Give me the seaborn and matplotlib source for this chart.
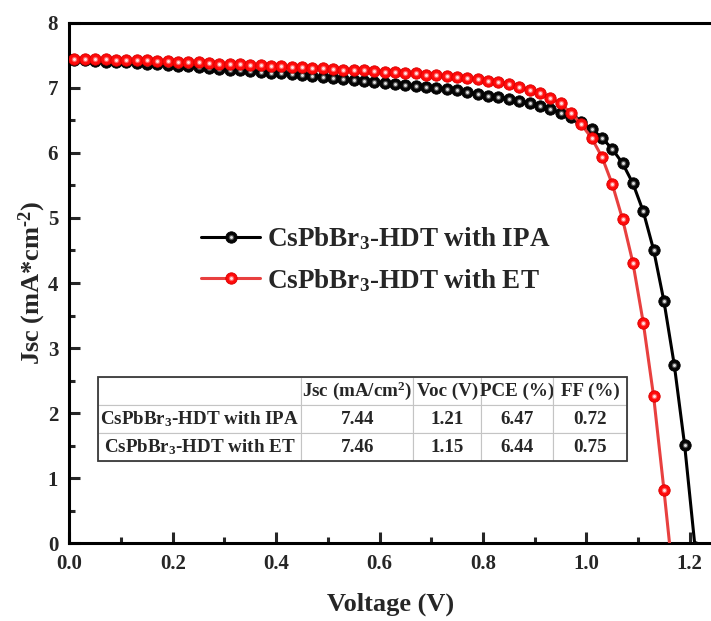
import numpy as np
import pandas as pd
import matplotlib
matplotlib.use("Agg")
import matplotlib.pyplot as plt
import seaborn as sns
from matplotlib.lines import Line2D
from matplotlib.legend_handler import HandlerTuple
from matplotlib.patches import Rectangle
from matplotlib.ticker import MultipleLocator

# J-V data
voltage_ipa = [0.01, 0.03, 0.05, 0.07, 0.09, 0.11, 0.13, 0.15, 0.17, 0.19,
               0.21, 0.23, 0.25, 0.27, 0.29, 0.31, 0.33, 0.35, 0.37, 0.39,
               0.41, 0.43, 0.45, 0.47, 0.49, 0.51, 0.53, 0.55, 0.57, 0.59,
               0.61, 0.63, 0.65, 0.67, 0.69, 0.71, 0.73, 0.75, 0.77, 0.79,
               0.81, 0.83, 0.85, 0.87, 0.89, 0.91, 0.93, 0.95, 0.97, 0.99,
               1.01, 1.03, 1.05, 1.07, 1.09, 1.11, 1.13, 1.15, 1.17, 1.19,
               1.21]
jsc_ipa = [7.42, 7.42, 7.41, 7.40, 7.40, 7.39, 7.38, 7.37, 7.36, 7.35,
           7.34, 7.33, 7.32, 7.31, 7.29, 7.28, 7.27, 7.26, 7.24, 7.23,
           7.22, 7.21, 7.19, 7.18, 7.17, 7.15, 7.14, 7.12, 7.11, 7.09,
           7.08, 7.06, 7.05, 7.03, 7.01, 7.00, 6.98, 6.96, 6.93, 6.91,
           6.88, 6.86, 6.83, 6.80, 6.76, 6.72, 6.67, 6.62, 6.55, 6.47,
           6.37, 6.23, 6.06, 5.84, 5.53, 5.10, 4.51, 3.72, 2.74, 1.51,
           -0.05]

voltage_et = [0.01, 0.03, 0.05, 0.07, 0.09, 0.11, 0.13, 0.15, 0.17, 0.19,
              0.21, 0.23, 0.25, 0.27, 0.29, 0.31, 0.33, 0.35, 0.37, 0.39,
              0.41, 0.43, 0.45, 0.47, 0.49, 0.51, 0.53, 0.55, 0.57, 0.59,
              0.61, 0.63, 0.65, 0.67, 0.69, 0.71, 0.73, 0.75, 0.77, 0.79,
              0.81, 0.83, 0.85, 0.87, 0.89, 0.91, 0.93, 0.95, 0.97, 0.99,
              1.01, 1.03, 1.05, 1.07, 1.09, 1.11, 1.13, 1.15, 1.17]
jsc_et = [7.45, 7.45, 7.44, 7.44, 7.43, 7.43, 7.42, 7.42, 7.41, 7.41,
          7.40, 7.39, 7.39, 7.38, 7.37, 7.37, 7.36, 7.35, 7.35, 7.34,
          7.33, 7.32, 7.32, 7.31, 7.30, 7.29, 7.28, 7.28, 7.27, 7.26,
          7.25, 7.24, 7.23, 7.22, 7.20, 7.19, 7.18, 7.16, 7.15, 7.13,
          7.11, 7.09, 7.06, 7.02, 6.97, 6.92, 6.85, 6.76, 6.61, 6.44,
          6.23, 5.94, 5.52, 4.98, 4.31, 3.39, 2.26, 0.82, -0.70]

labels = [r"CsPbBr$_3$-HDT with IPA", r"CsPbBr$_3$-HDT with ET"]

table_header = ["", r"Jsc (mA/cm$^2$)", "Voc (V)", "PCE (%)", "FF (%)"]
table_rows = [
    [labels[0], "7.44", "1.21", "6.47", "0.72"],
    [labels[1], "7.46", "1.15", "6.44", "0.75"],
]

sns.set_style("ticks")
plt.rcParams["font.family"] = ["Liberation Serif", "DejaVu Serif"]
plt.rcParams["font.weight"] = "bold"
plt.rcParams["mathtext.fontset"] = "custom"
plt.rcParams["mathtext.rm"] = "Liberation Serif:bold"
plt.rcParams["mathtext.it"] = "Liberation Serif:bold"
plt.rcParams["mathtext.bf"] = "Liberation Serif:bold"
plt.rcParams["mathtext.default"] = "rm"

fig = plt.figure(figsize=(7.11, 6.21), dpi=100)
ax = fig.add_axes([0.0975, 0.1251, 0.9025, 0.8383])

styles = [
    # line, marker base, marker edge, mid glow, highlight
    ("black", "#050505", "#000000", "#505050", "#e0e0e0"),
    ("#e8403f", "#ff0a0a", "#d80000", "#ff6060", "#ffe4e4"),
]
series = [(voltage_ipa, jsc_ipa), (voltage_et, jsc_et)]

z = 3
for (v, j), (lc, base, edge, mid, hi) in zip(series, styles):
    df = pd.DataFrame({"V": v, "J": j})
    sns.lineplot(data=df, x="V", y="J", ax=ax, color=lc, lw=2.2,
                 marker="o", markersize=8.2, markerfacecolor=base,
                 markeredgecolor=edge, markeredgewidth=0.6, zorder=z)
    sns.scatterplot(data=df, x="V", y="J", ax=ax, color=mid, s=15,
                    linewidth=0, zorder=z + 0.1, legend=False)
    sns.scatterplot(data=df, x="V", y="J", ax=ax, color=hi, s=4.5,
                    linewidth=0, zorder=z + 0.2, legend=False)
    z += 1

ax.set_xlim(0, 1.241)
ax.set_ylim(0, 8)
ax.xaxis.set_major_locator(MultipleLocator(0.2))
ax.xaxis.set_minor_locator(MultipleLocator(0.1))
ax.yaxis.set_major_locator(MultipleLocator(1))
ax.yaxis.set_minor_locator(MultipleLocator(0.5))
ax.tick_params(which="both", direction="in", width=2.2, top=False,
               right=False, labelsize=15, pad=8)
ax.tick_params(which="major", length=8)
ax.tick_params(which="minor", length=4)
for lab in ax.get_xticklabels() + ax.get_yticklabels():
    lab.set_fontweight("bold")

for name in ["left", "bottom", "top"]:
    ax.spines[name].set_linewidth(2.2)
    ax.spines[name].set_color("black")
ax.spines["right"].set_visible(False)

ax.set_xlabel("Voltage (V)", fontsize=19, fontweight="bold", labelpad=13)
ax.set_ylabel(r"Jsc (mA*cm$^{\text{-}2}$)", fontsize=19, fontweight="bold",
              labelpad=0)

handles = []
for lc, base, edge, mid, hi in styles:
    handles.append((
        Line2D([], [], color=lc, lw=2.2, marker="o", ms=8.2, mfc=base,
               mec=edge, mew=0.6),
        Line2D([], [], ls="", marker="o", ms=3.9, mfc=mid, mec="none"),
        Line2D([], [], ls="", marker="o", ms=2.1, mfc=hi, mec="none"),
    ))
ax.legend(handles, labels,
          handler_map={tuple: HandlerTuple(ndivide=1, pad=0)},
          loc="upper left", bbox_to_anchor=(0.205, 0.611), frameon=False,
          prop={"family": "Liberation Serif", "weight": "bold", "size": 19.5},
          handlelength=2.2, handletextpad=0.25, labelspacing=0.55,
          borderpad=0, borderaxespad=0)

# summary table
col_w = np.array([203, 112, 68, 72, 74], dtype=float)
tb_x, tb_y, tb_w, tb_h = 0.0453, 0.158, 0.824, 0.1614
tbl = ax.table(cellText=table_rows, colLabels=table_header,
               colWidths=list(col_w / col_w.sum() * tb_w),
               cellLoc="center", bbox=[tb_x, tb_y, tb_w, tb_h], zorder=2)
tbl.auto_set_font_size(False)
for (r, c), cell in tbl.get_celld().items():
    cell.set_edgecolor("#c4c4c4")
    cell.set_linewidth(0.8)
    cell.set_facecolor("white")
    cell.PAD = 0.02
    cell.get_text().set_fontsize(13.7)
    cell.get_text().set_fontweight("bold")
ax.add_patch(Rectangle((tb_x, tb_y), tb_w, tb_h, transform=ax.transAxes,
                       fill=False, edgecolor="#3a3a3a", lw=1.3, zorder=2.5))

fig.savefig("out.png", dpi=100)
